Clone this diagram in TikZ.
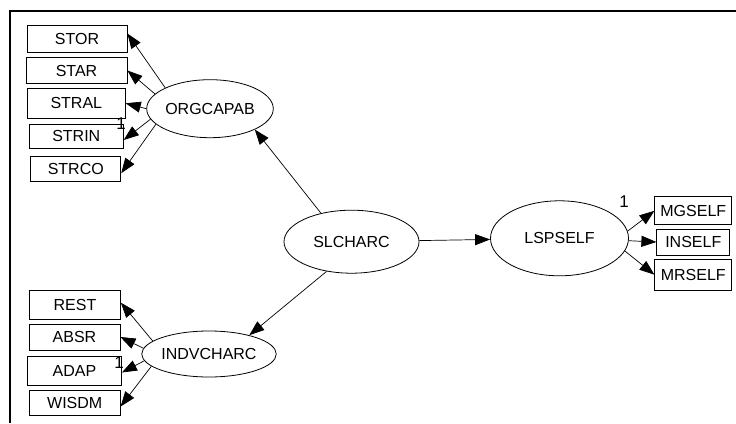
\documentclass[tikz,border=0pt]{standalone}
\usepackage{fontspec}
\setmainfont{Liberation Sans}
\usetikzlibrary{arrows.meta,shapes.geometric}
\begin{document}
\begin{tikzpicture}[x=1pt,y=-1pt,
  every node/.style={font=\fontsize{16}{18}\selectfont, inner sep=0pt},
  ind/.style={draw, line width=0.8pt, rectangle},
  lat/.style={draw, line width=0.8pt, ellipse},
  arr/.style={line width=0.7pt, -{Triangle[length=15pt,width=11pt]}},
  lab/.style={font=\fontsize{17}{18}\selectfont}]
\useasboundingbox (0,0) rectangle (736,423);
\draw[line width=2pt] (10,423) -- (10,11) -- (736,11);
% latent variables
\node[lat, minimum width=125, minimum height=58] (org) at (210,108.7) {ORGCAPAB};
\node[lat, minimum width=125, minimum height=46] (ind) at (209,354) {INDVCHARC};
\node[lat, minimum width=135, minimum height=63] (sl) at (351.5,241.7) {SLCHARC};
\node[lat, minimum width=138, minimum height=75] (lsp) at (559.5,238.3) {LSPSELF};
% indicators
\node[ind, minimum width=100, minimum height=27] (stor) at (77,38.5) {STOR};
\node[ind, minimum width=101, minimum height=26] (star) at (76.5,70.5) {STAR};
\node[ind, minimum width=98, minimum height=30] (stral) at (76.3,103.3) {STRAL};
\node[ind, minimum width=94, minimum height=24] (strin) at (76.3,136) {STRIN};
\node[ind, minimum width=90, minimum height=25] (strco) at (75.8,169.2) {STRCO};
\node[ind, minimum width=91, minimum height=29] (rest) at (75,304.7) {REST};
\node[ind, minimum width=91, minimum height=26] (absr) at (74.5,337) {ABSR};
\node[ind, minimum width=94, minimum height=29] (adap) at (74.5,370.5) {ADAP};
\node[ind, minimum width=91, minimum height=25] (wisdm) at (74.7,402.5) {WISDM};
\node[ind, minimum width=77, minimum height=28] (mg) at (693.3,210.8) {MGSELF};
\node[ind, minimum width=73, minimum height=26] (ins) at (693.3,242) {INSELF};
\node[ind, minimum width=77, minimum height=31] (mr) at (693.3,274.7) {MRSELF};
% structural arrows
\draw[arr] (sl.137) -- (org.335);
\draw[arr] (sl.230) -- (ind.25);
\draw[arr] (sl) -- (lsp);
% measurement arrows
\draw[arr] (org.155) -- ([yshift=5]stor.east);
\draw[arr] (org.165) -- (star.east);
\draw[arr] (org.180) -- (stral.east);
\draw[arr] (org.190) -- ([yshift=-4]strin.east);
\draw[arr] (org.196) -- ([yshift=-4]strco.east);
\draw[arr] (ind.167) -- ([yshift=2]rest.east);
\draw[arr] (ind.175) -- (absr.east);
\draw[arr] (ind.186) -- ([yshift=-2]adap.east);
\draw[arr] (ind.192) -- ([yshift=-4]wisdm.east);
\draw[arr] (lsp.6) -- (mg.west);
\draw[arr] (lsp.358) -- (ins.west);
\draw[arr] (lsp.349) -- (mr.west);
% labels
\node[lab] (l1) at (121,124) {1};
\node[lab] (l2) at (119,363) {1};
\node[lab] (l3) at (624,202) {1};
\end{tikzpicture}
\end{document}
